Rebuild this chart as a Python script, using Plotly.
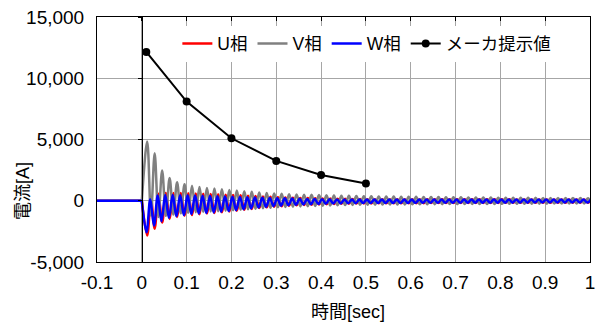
import plotly.graph_objects as go

# ---------------- data ----------------
T0 = 0.012          # time of first half-cycle extreme [s]
PERIOD = 1 / 60     # 60 Hz
W_SHIFT = -0.0015

# pre-fault section (all phases at zero)
pre_t = [-0.1, 0.0]
pre_i = [0, 0]

# V phase: positive extremes / negative extremes per cycle
V_peak = [4830, 3880, 2470, 1850, 1510, 1340, 1230, 1130, 1050, 990,
          940, 880, 840, 780, 730, 680, 640, 600, 570, 540,
          520, 500, 480, 460, 445, 430, 415, 400, 385, 370,
          360, 352, 345, 338, 331, 324, 317, 310, 304, 298,
          292, 286, 280, 275, 270, 265, 260, 255, 251, 247,
          243, 239, 235, 231, 228, 225, 222, 219, 216, 213]
V_trough = [-1230, -1330, -1230, -1130, -1030, -980, -940, -910, -880, -850,
            -820, -780, -740, -700, -660, -620, -580, -540, -510, -480,
            -460, -440, -420, -400, -385, -370, -355, -340, -330, -320,
            -315, -311, -307, -303, -299, -295, -291, -287, -283, -279,
            -275, -271, -268, -265, -262, -259, -256, -253, -250, -247,
            -244, -241, -238, -235, -232, -229, -226, -223, -220, -217]

# U phase
U_trough = [-2830, -2280, -1780, -1480, -1330, -1230, -1160, -1100, -1050, -1000,
            -940, -880, -810, -740, -670, -600, -540, -480, -440, -400,
            -370, -340, -320, -300, -280, -265, -250, -240, -230, -220,
            -215, -212, -209, -206, -203, -200, -197, -195, -193, -191,
            -189, -187, -185, -183, -181, -179, -177, -175, -173, -171,
            -169, -168, -167, -166, -165, -164, -163, -162, -161, -160]
U_peak = [180, 580, 640, 640, 630, 620, 600, 580, 560, 530,
          500, 470, 440, 410, 380, 350, 320, 290, 270, 250,
          230, 215, 200, 185, 175, 165, 155, 145, 138, 130,
          128, 127, 126, 125, 124, 123, 122, 121, 120, 119,
          118, 117, 116, 115, 115, 114, 114, 113, 113, 112,
          112, 112, 111, 111, 111, 110, 110, 110, 110, 110]

# W phase
W_trough = [-2580, -2030, -1680, -1400, -1260, -1160, -1090, -1040, -990, -950,
            -900, -840, -770, -700, -630, -560, -500, -440, -400, -360,
            -330, -300, -280, -260, -245, -230, -220, -210, -200, -190,
            -186, -183, -180, -178, -176, -174, -172, -170, -168, -166,
            -165, -164, -163, -162, -161, -160, -159, -158, -157, -156,
            -155, -154, -153, -153, -152, -152, -151, -151, -150, -150]
W_peak = [130, 430, 460, 460, 450, 440, 430, 410, 390, 370,
          350, 330, 310, 290, 270, 250, 230, 210, 195, 180,
          165, 150, 140, 130, 120, 112, 106, 100, 100, 100,
          100, 100, 100, 100, 100, 100, 100, 100, 100, 100,
          100, 100, 100, 100, 100, 100, 100, 100, 100, 100,
          100, 100, 100, 100, 100, 100, 100, 100, 100, 100]

# maker-provided values
maker_t = [0.01, 0.1, 0.2, 0.3, 0.4, 0.5]
maker_i = [12150, 8100, 5100, 3250, 2100, 1400]

x_tickvals = [-0.1, 0, 0.1, 0.2, 0.3, 0.4, 0.5, 0.6, 0.7, 0.8, 0.9, 1.0]
x_ticktext = ["-0.1", "0", "0.1", "0.2", "0.3", "0.4", "0.5", "0.6", "0.7", "0.8", "0.9", "1"]
y_tickvals = [-5000, 0, 5000, 10000, 15000]
y_ticktext = ["-5,000", "0", "5,000", "10,000", "15,000"]


def build(first, second, shift=0.0):
    xs = [pre_t[-1]]
    ys = [pre_i[-1]]
    for k, (a, b) in enumerate(zip(first, second)):
        xs.append(T0 + shift + k * PERIOD)
        ys.append(a)
        xs.append(T0 + shift + (k + 0.5) * PERIOD)
        ys.append(b)
    return xs, ys


FONT = "Liberation Sans, Arial, Noto Sans CJK JP"
COLORS = {"U": "#ff0000", "V": "#808080", "W": "#0000ff"}

fig = go.Figure()
ux, uy = build(U_trough, U_peak)
vx, vy = build(V_peak, V_trough)
wx, wy = build(W_trough, W_peak, W_SHIFT)
for name, xs, ys in (("U", ux, uy), ("V", vx, vy), ("W", wx, wy)):
    fig.add_trace(go.Scatter(x=xs, y=ys, mode="lines", name=name + "相",
                             legendgroup=name,
                             line=dict(color=COLORS[name], width=2.5, shape="spline")))
    fig.add_trace(go.Scatter(x=pre_t, y=pre_i, mode="lines", legendgroup=name,
                             showlegend=False, hoverinfo="skip",
                             line=dict(color=COLORS[name], width=2.5)))
fig.add_trace(go.Scatter(x=maker_t, y=maker_i, mode="lines+markers", name="メーカ提示値",
                         line=dict(color="#000000", width=2),
                         marker=dict(color="#000000", size=8)))

x_rng = [-0.1, 1.0]
y_rng = [-5000, 15000]

# the page body adds an 8 px margin, so the figure is sized 8 px smaller
fig.update_layout(
    width=597, height=316,
    margin=dict(l=89, r=15, t=9, b=62, autoexpand=False),
    paper_bgcolor="white", plot_bgcolor="white",
    font=dict(family=FONT, size=18, color="#000000"),
    showlegend=True,
    legend=dict(orientation="h", x=0.163, y=0.965, xanchor="left", yanchor="top",
                bgcolor="white", font=dict(size=17.5), itemwidth=30,
                tracegroupgap=0, traceorder="normal"),
    xaxis=dict(range=x_rng, tickvals=x_tickvals, ticktext=x_ticktext,
               showgrid=True, gridcolor="#a6a6a6", gridwidth=1, automargin=False,
               zeroline=False, showline=True, linecolor="#000000", linewidth=1,
               mirror=True, ticks="", tickfont=dict(size=19), ticklabelstandoff=3,
               ticklabeloverflow="allow"),
    yaxis=dict(range=y_rng, tickvals=y_tickvals, ticktext=y_ticktext,
               showgrid=True, gridcolor="#a6a6a6", gridwidth=1, automargin=False,
               zeroline=False, showline=True, linecolor="#000000", linewidth=1,
               mirror=True, ticks="", tickfont=dict(size=19), ticklabelstandoff=8,
               ticklabeloverflow="allow"),
    # vertical axis line crossing at t = 0
    yaxis2=dict(range=y_rng, tickvals=y_tickvals, overlaying="y", anchor="free",
                position=(0 - x_rng[0]) / (x_rng[1] - x_rng[0]), automargin=False,
                showline=True, linecolor="#000000", linewidth=1,
                ticks="outside", ticklen=4, tickcolor="#000000",
                showticklabels=False, showgrid=False, zeroline=False),
    # tick marks along the top edge
    xaxis2=dict(range=x_rng, tickvals=x_tickvals, overlaying="x", side="top",
                anchor="y", ticks="inside", ticklen=4, tickcolor="#000000",
                automargin=False,
                showticklabels=False, showgrid=False, zeroline=False, showline=False),
)

# invisible trace to activate the overlay axes
fig.add_trace(go.Scatter(x=[None], y=[None], xaxis="x2", yaxis="y2",
                         showlegend=False, hoverinfo="skip"))

fig.add_annotation(text="時間[sec]", xref="paper", yref="paper", x=0.51, y=-0.205,
                   showarrow=False, xanchor="center", yanchor="middle",
                   font=dict(size=18, color="#000000"))
fig.add_annotation(text="電流[A]", xref="paper", yref="paper", x=-0.15, y=0.29,
                   showarrow=False, textangle=-90, xanchor="center", yanchor="middle",
                   font=dict(size=18, color="#000000"))

fig.write_html("out.html")
